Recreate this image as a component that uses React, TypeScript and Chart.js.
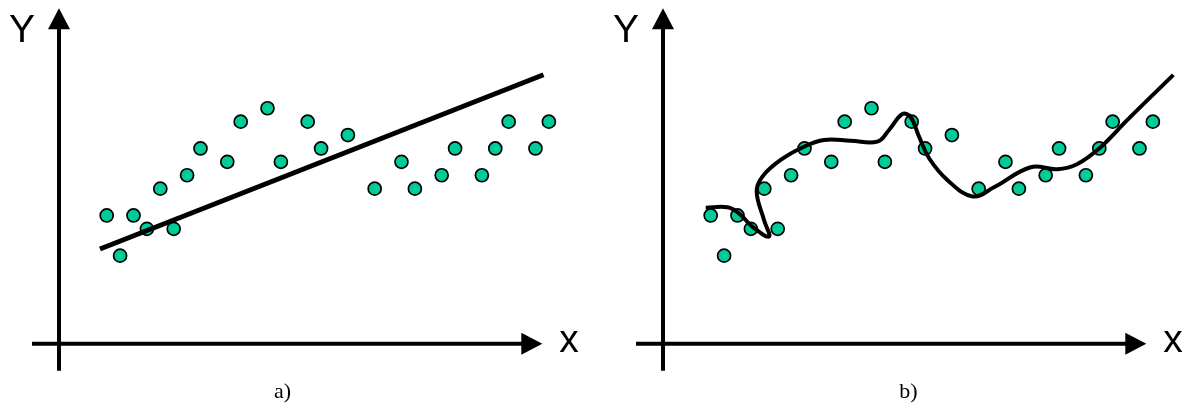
import { useEffect, useRef } from "react";
import { Chart, registerables } from "chart.js";

Chart.register(...registerables);

// Observations shared by both panels (grid units)
const sampleX = [0, 1, 2, 3, 4, 5, 6, 7, 9, 10, 12, 13, 15, 16, 18, 20, 22, 23, 25, 26, 28, 29, 30, 32, 33];
const sampleY = [3, 0, 3, 2, 5, 2, 6, 8, 7, 10, 11, 7, 10, 8, 9, 5, 7, 5, 6, 8, 6, 8, 10, 8, 10];

// a) straight-line fit
const linearFitX = [-0.5, 32.6];
const linearFitY = [0.5, 13.5];

// b) over-fitted wiggly curve
const wiggleFitX = [-0.37, 1.25, 2.11, 3.11, 4.35, 3.98, 3.43, 3.86, 5.22, 6.96, 8.46, 10.45, 12.44, 13.31, 14.31, 14.93, 15.55, 16.3, 17.66, 19.55, 21.14, 23.88, 25.87, 27.37, 29.1, 31.1, 34.53];
const wiggleFitY = [3.58, 3.61, 3.16, 2.16, 1.42, 2.66, 4.78, 5.9, 7.14, 8.13, 8.63, 8.58, 8.51, 9.38, 10.57, 10.33, 8.88, 7.27, 5.65, 4.42, 5.1, 6.6, 6.45, 6.84, 8.09, 10.13, 13.49];

const axisTitleX = "x";
const axisTitleY = "Y";
const captionA = "a)";
const captionB = "b)";

const toPoints = (xs: number[], ys: number[]) => xs.map((x, i) => ({ x, y: ys[i] }));

// Draws the arrow-tipped axes, axis letters and the panel caption
const arrowAxes = {
  id: "arrowAxes",
  afterDraw(chart: any, _args: any, opts: any) {
    const { ctx, chartArea: a } = chart;
    ctx.save();
    ctx.strokeStyle = "#000";
    ctx.fillStyle = "#000";
    ctx.lineWidth = 4;
    ctx.lineCap = "butt";

    // vertical axis
    ctx.beginPath();
    ctx.moveTo(a.left, a.bottom + 27);
    ctx.lineTo(a.left, a.top + 19);
    ctx.stroke();
    ctx.beginPath();
    ctx.moveTo(a.left, a.top);
    ctx.lineTo(a.left - 11, a.top + 21);
    ctx.lineTo(a.left + 11, a.top + 21);
    ctx.closePath();
    ctx.fill();

    // horizontal axis
    ctx.beginPath();
    ctx.moveTo(a.left - 27, a.bottom);
    ctx.lineTo(a.right - 19, a.bottom);
    ctx.stroke();
    ctx.beginPath();
    ctx.moveTo(a.right, a.bottom);
    ctx.lineTo(a.right - 21, a.bottom - 11);
    ctx.lineTo(a.right - 21, a.bottom + 11);
    ctx.closePath();
    ctx.fill();

    ctx.font = '39px "Liberation Sans", Arial, sans-serif';
    ctx.textAlign = "left";
    ctx.textBaseline = "alphabetic";
    ctx.fillText(opts.yTitle, a.left - 50, a.top + 33.5);
    ctx.fillText(opts.xTitle, a.right + 17, a.bottom + 8);

    ctx.font = '22px "Liberation Serif", "Times New Roman", serif';
    ctx.textAlign = "center";
    ctx.fillText(opts.caption, opts.captionX, 398);
    ctx.restore();
  },
};

type PanelProps = {
  left: number;
  fitX: number[];
  fitY: number[];
  tension: number;
  lineWidth: number;
  caption: string;
  captionX: number;
};

function Panel({ left, fitX, fitY, tension, lineWidth, caption, captionX }: PanelProps) {
  const ref = useRef<HTMLCanvasElement>(null);

  useEffect(() => {
    if (!ref.current) return;
    const chart = new Chart(ref.current, {
      type: "scatter",
      data: {
        datasets: [
          {
            data: toPoints(fitX, fitY),
            showLine: true,
            borderColor: "#000",
            borderWidth: lineWidth,
            borderCapStyle: "butt",
            borderJoinStyle: "round",
            pointRadius: 0,
            tension,
            clip: false,
          } as any,
          {
            data: toPoints(sampleX, sampleY),
            showLine: false,
            pointRadius: 6.5,
            pointBorderWidth: 1.7,
            pointBackgroundColor: "#00CC99",
            pointBorderColor: "#000",
            clip: false,
          } as any,
        ],
      },
      options: {
        responsive: false,
        animation: false,
        events: [],
        layout: { padding: { left: 59, top: 8.3, right: 40.7, bottom: 61.3 } },
        scales: {
          x: { type: "linear", display: false, min: -3.56, max: 32.51 },
          y: { type: "linear", display: false, min: -6.57, max: 18.46 },
        },
        plugins: {
          legend: { display: false },
          tooltip: { enabled: false },
          arrowAxes: { xTitle: axisTitleX, yTitle: axisTitleY, caption, captionX },
        } as any,
      },
      plugins: [arrowAxes],
    });
    return () => chart.destroy();
  }, []);

  return (
    <canvas
      ref={ref}
      width={583}
      height={405}
      style={{ position: "absolute", left, top: 0, width: 583, height: 405 }}
    />
  );
}

export default function App() {
  return (
    <div style={{ position: "absolute", left: 0, top: 0, width: 1187, height: 405, background: "#fff", overflow: "hidden" }}>
      <Panel left={0} fitX={linearFitX} fitY={linearFitY} tension={0} lineWidth={5} caption={captionA} captionX={282.5} />
      <Panel left={604} fitX={wiggleFitX} fitY={wiggleFitY} tension={0.4} lineWidth={4} caption={captionB} captionX={304.5} />
    </div>
  );
}
